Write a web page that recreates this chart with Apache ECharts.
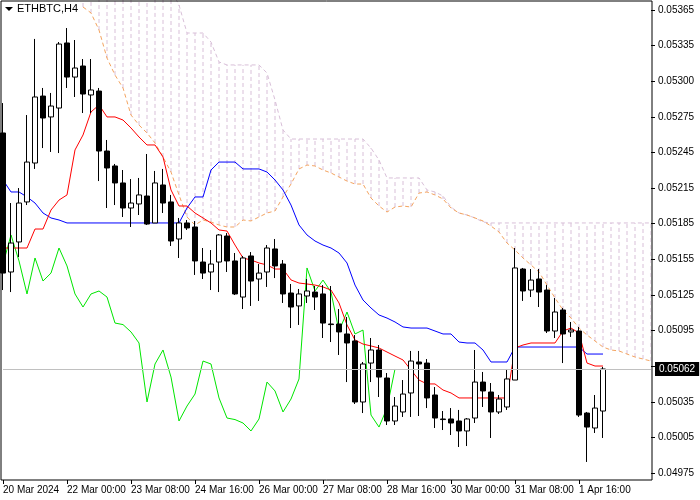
<!DOCTYPE html>
<html>
<head>
<meta charset="utf-8">
<script src="https://cdn.jsdelivr.net/npm/echarts@6/dist/echarts.min.js"></script>
<style>
  html, body { margin: 0; padding: 0; background: #fff; }
  #chart { width: 700px; height: 500px; }
</style>
</head>
<body>
<div id="chart"></div>
<script>
// ETHBTC H4 bars: [open, close, low, high]
var candles = [
  [0.052614,0.051434,0.051291,0.052866],
  [0.051443,0.051687,0.051274,0.052024],
  [0.051696,0.052024,0.051569,0.052150],
  [0.052033,0.052369,0.052007,0.052765],
  [0.052361,0.052917,0.052311,0.053406],
  [0.052925,0.052740,0.052487,0.052993],
  [0.052749,0.052841,0.052454,0.052951],
  [0.052824,0.053363,0.052445,0.053380],
  [0.053372,0.053085,0.052993,0.053498],
  [0.053085,0.053161,0.052917,0.053397],
  [0.053178,0.052942,0.052782,0.053237],
  [0.052934,0.052976,0.052782,0.053237],
  [0.052967,0.052462,0.052209,0.052993],
  [0.052462,0.052319,0.051982,0.052555],
  [0.052336,0.052193,0.052007,0.052353],
  [0.052193,0.051982,0.051906,0.052302],
  [0.051982,0.052024,0.051822,0.052226],
  [0.052016,0.052092,0.051923,0.052235],
  [0.052083,0.051847,0.051839,0.052437],
  [0.051856,0.052193,0.051856,0.052294],
  [0.052176,0.052024,0.051940,0.052311],
  [0.052033,0.051704,0.051662,0.052092],
  [0.051721,0.051856,0.051561,0.051898],
  [0.051856,0.051814,0.051797,0.051881],
  [0.051822,0.051536,0.051418,0.051872],
  [0.051527,0.051434,0.051384,0.051645],
  [0.051443,0.051510,0.051291,0.051628],
  [0.051527,0.051755,0.051274,0.051763],
  [0.051746,0.051536,0.051443,0.051771],
  [0.051536,0.051258,0.051249,0.051603],
  [0.051232,0.051561,0.051131,0.051578],
  [0.051578,0.051367,0.051157,0.051611],
  [0.051384,0.051434,0.051199,0.051510],
  [0.051443,0.051645,0.051317,0.051670],
  [0.051637,0.051494,0.051392,0.051721],
  [0.051510,0.051258,0.051182,0.051544],
  [0.051266,0.051148,0.050971,0.051342],
  [0.051157,0.051258,0.050997,0.051300],
  [0.051241,0.051283,0.051182,0.051384],
  [0.051274,0.051232,0.051123,0.051325],
  [0.051258,0.051013,0.050887,0.051333],
  [0.051005,0.051000,0.050853,0.051325],
  [0.051005,0.050938,0.050744,0.051131],
  [0.050921,0.050845,0.050516,0.051064],
  [0.050862,0.050348,0.050331,0.050912],
  [0.050348,0.050668,0.050255,0.050685],
  [0.050676,0.050786,0.050516,0.050887],
  [0.050786,0.050558,0.050390,0.050828],
  [0.050550,0.050188,0.050154,0.050592],
  [0.050188,0.050314,0.050154,0.050390],
  [0.050264,0.050415,0.050222,0.050533],
  [0.050424,0.050693,0.050222,0.050778],
  [0.050685,0.050668,0.050230,0.050778],
  [0.050676,0.050382,0.050297,0.050710],
  [0.050407,0.050213,0.050129,0.050474],
  [0.050205,0.050200,0.050112,0.050272],
  [0.050205,0.050171,0.050070,0.050297],
  [0.050188,0.050104,0.049969,0.050281],
  [0.050104,0.050205,0.049977,0.050213],
  [0.050213,0.050516,0.050171,0.050786],
  [0.050516,0.050441,0.050306,0.050601],
  [0.050432,0.050264,0.050045,0.050508],
  [0.050264,0.050373,0.050247,0.050407],
  [0.050306,0.050542,0.050281,0.050626],
  [0.050533,0.051477,0.050533,0.051645],
  [0.051468,0.051283,0.051199,0.051477],
  [0.051291,0.051375,0.051232,0.051468],
  [0.051384,0.051274,0.051148,0.051468],
  [0.051291,0.050946,0.050929,0.051333],
  [0.050946,0.051106,0.050887,0.051224],
  [0.051123,0.050921,0.050676,0.051140],
  [0.050938,0.050954,0.050896,0.051022],
  [0.050946,0.050238,0.050222,0.050980],
  [0.050255,0.050137,0.049843,0.050264],
  [0.050129,0.050297,0.050087,0.050407],
  [0.050272,0.050626,0.050045,0.050643]
];

// Tenkan-sen (red)
var tenkan = [
  0.051645,0.051645,0.051645,0.051645,0.051805,0.051805,0.051965,0.052049,0.052092,0.052471,
  0.052597,0.052791,0.052850,0.052749,0.052749,0.052723,0.052656,0.052580,0.052513,0.052513,
  0.052412,0.052134,0.051999,0.051999,0.051940,0.051898,0.051856,0.051797,0.051788,0.051670,
  0.051561,0.051544,0.051519,0.051502,0.051468,0.051468,0.051376,0.051350,0.051342,0.051333,
  0.051317,0.051291,0.051182,0.050997,0.050870,0.050836,0.050820,0.050803,0.050769,0.050735,
  0.050702,0.050617,0.050533,0.050500,0.050500,0.050449,0.050424,0.050382,0.050382,0.050382,
  0.050382,0.050382,0.050382,0.050382,0.050803,0.050828,0.050845,0.050845,0.050845,0.050845,
  0.050946,0.050971,0.050929,0.050676,0.050651,0.050651
];

// Kijun-sen (blue)
var kijun = [
  0.052218,0.052117,0.052117,0.052075,0.052024,0.051940,0.051898,0.051881,0.051856,0.051856,
  0.051856,0.051856,0.051856,0.051856,0.051856,0.051856,0.051856,0.051856,0.051856,0.051856,
  0.051856,0.051856,0.051856,0.051982,0.052075,0.052075,0.052302,0.052369,0.052369,0.052369,
  0.052311,0.052311,0.052311,0.052285,0.052218,0.052134,0.052007,0.051839,0.051755,0.051704,
  0.051670,0.051645,0.051603,0.051519,0.051333,0.051207,0.051140,0.051081,0.051055,0.051022,
  0.050980,0.050971,0.050971,0.050971,0.050946,0.050921,0.050921,0.050853,0.050845,0.050845,
  0.050786,0.050685,0.050685,0.050685,0.050811,0.050811,0.050811,0.050811,0.050811,0.050811,
  0.050811,0.050811,0.050811,0.050752,0.050752,0.050752
];

// Senkou span A / B, starting at bar 10, running 6 bars past the last candle
var spanStart = 10;
var senkouA = [
  0.053675,0.053625,0.053481,0.053245,0.053102,0.052993,0.052765,0.052681,0.052614,0.052530,
  0.052412,0.052285,0.052092,0.051906,0.051839,0.051881,0.051864,0.051839,0.051822,0.051822,
  0.051881,0.051873,0.051906,0.051940,0.051957,0.052075,0.052184,0.052311,0.052344,0.052336,
  0.052302,0.052277,0.052243,0.052209,0.052184,0.052184,0.052066,0.051999,0.051948,0.051990,
  0.051999,0.051990,0.052108,0.052117,0.052092,0.052058,0.051982,0.051940,0.051923,0.051898,
  0.051873,0.051830,0.051780,0.051687,0.051628,0.051561,0.051502,0.051443,0.051333,0.051224,
  0.051123,0.051055,0.050971,0.050912,0.050862,0.050811,0.050786,0.050778,0.050752,0.050727,
  0.050710,0.050693
];
var senkouB = [
  0.05382,0.05382,0.05382,0.05382,0.05382,0.05382,0.05382,0.05382,0.05382,0.05382,
  0.05382,0.05382,0.053692,0.053456,0.053456,0.053456,0.053380,0.053212,0.053187,0.053187,
  0.053187,0.053187,0.053187,0.053119,0.052892,0.052639,0.052563,0.052563,0.052563,0.052563,
  0.052563,0.052563,0.052563,0.052563,0.052563,0.052563,0.052487,0.052386,0.052235,0.052235,
  0.052235,0.052235,0.052235,0.052134,0.052117,0.052083,0.051990,0.051940,0.051923,0.051898,
  0.051864,0.051856,0.051856,0.051856,0.051856,0.051856,0.051856,0.051856,0.051856,0.051856,
  0.051856,0.051856,0.051856,0.051856,0.051856,0.051856,0.051856,0.051856,0.051856,0.051856,
  0.051856,0.051856
];

var chikouShift = 26;

var timeLabels = ['20 Mar 2024','22 Mar 00:00','23 Mar 08:00','24 Mar 16:00','26 Mar 00:00',
                  '27 Mar 08:00','28 Mar 16:00','30 Mar 00:00','31 Mar 08:00','1 Apr 16:00'];
var priceTicks = [0.04975,0.05005,0.05035,0.05065,0.05095,0.05125,0.05155,0.05185,
                  0.05215,0.05245,0.05275,0.05305,0.05335,0.05365];
var priceLabels = ['0.04975','0.05005','0.05035','','0.05095','0.05125','0.05155','0.05185',
                   '0.05215','0.05245','0.05275','0.05300','0.05335','0.05365'];
var lastPriceLabel = '0.05062';

var nSlots = spanStart + senkouA.length;
var categories = [];
for (var i = 0; i < nSlots; i++) categories.push(i);

var spanA = [], spanB = [], cloud = [];
for (var i = 0; i < nSlots; i++) {
    var k = i - spanStart;
    spanA.push(k >= 0 ? senkouA[k] : null);
    spanB.push(k >= 0 ? senkouB[k] : null);
    if (k >= 0) cloud.push([i, senkouA[k], senkouB[k]]);
}
var closes = candles.map(function (c) { return c[1]; });
var chikou = closes.slice(chikouShift);
var lastClose = closes[closes.length - 1];

var font = 'Liberation Sans';
var chart = echarts.init(document.getElementById('chart'));
chart.setOption({
    animation: false,
    backgroundColor: '#ffffff',
    grid: { left: 3, right: 49, top: 0, height: 480 },
    xAxis: {
        type: 'category',
        data: categories,
        boundaryGap: false,
        axisLine: { show: false },
        axisTick: { show: true, length: 4, interval: function (i) { return i % 8 === 0 && i <= 72; },
                    lineStyle: { color: '#000' } },
        axisLabel: {
            interval: function (i) { return i % 8 === 0 && i <= 72; },
            formatter: function (v, i) { return timeLabels[i / 8] || ''; },
            align: 'left', color: '#000', fontFamily: font, fontSize: 10, margin: 5
        },
        splitLine: { show: false }
    },
    yAxis: {
        type: 'value',
        position: 'right',
        min: 0.049691,
        max: 0.053734,
        axisLine: { show: false },
        axisTick: { show: true, length: 4, customValues: priceTicks, lineStyle: { color: '#000' } },
        axisLabel: {
            customValues: priceTicks,
            formatter: function (v) {
                for (var j = 0; j < priceTicks.length; j++) {
                    if (Math.abs(priceTicks[j] - v) < 1e-7) return priceLabels[j];
                }
                return '';
            },
            color: '#000', fontFamily: font, fontSize: 10, margin: 7
        },
        splitLine: { show: false }
    },
    series: [
        {
            type: 'custom',
            clip: true,
            silent: true,
            data: cloud,
            renderItem: function (params, api) {
                var p1 = api.coord([api.value(0), api.value(1)]);
                var p2 = api.coord([api.value(0), api.value(2)]);
                return {
                    type: 'line',
                    shape: { x1: p1[0], y1: p1[1], x2: p2[0], y2: p2[1] },
                    style: { stroke: '#d8bfd8', lineWidth: 1, lineDash: [4, 3] }
                };
            },
            z: 1
        },
        {
            type: 'line', data: spanB, symbol: 'none', clip: true, z: 2,
            lineStyle: { color: '#d8bfd8', width: 1, type: [4, 3] }
        },
        {
            type: 'line', data: spanA, symbol: 'none', clip: true, z: 2,
            lineStyle: { color: '#f4a460', width: 1, type: [4, 3] }
        },
        {
            type: 'line', data: chikou, symbol: 'none', z: 3,
            lineStyle: { color: '#00e600', width: 1 },
            // current price line
            markLine: {
                silent: true,
                symbol: 'none',
                precision: 6,
                data: [{ yAxis: lastClose }],
                lineStyle: { color: '#c0c0c0', type: 'solid', width: 1 },
                label: {
                    position: 'end', formatter: lastPriceLabel, distance: 4,
                    backgroundColor: '#000', color: '#fff', fontFamily: font, fontSize: 10,
                    padding: [2, 4]
                }
            }
        },
        {
            type: 'line', data: kijun, symbol: 'none', z: 3,
            lineStyle: { color: '#0000ff', width: 1 }
        },
        {
            type: 'line', data: tenkan, symbol: 'none', z: 3,
            lineStyle: { color: '#ff0000', width: 1 }
        },
        {
            type: 'candlestick',
            data: candles,
            barWidth: 5,
            z: 4,
            itemStyle: {
                color: '#ffffff', color0: '#000000',
                borderColor: '#000000', borderColor0: '#000000', borderWidth: 1
            }
        }
    ],
    graphic: [
        { type: 'rect', shape: { x: 1, y: 1, width: 651, height: 479 }, silent: true,
          style: { fill: 'none', stroke: '#000', lineWidth: 1 }, z: 10 },
        { type: 'polygon', shape: { points: [[5, 7], [13, 7], [9, 11]] },
          style: { fill: '#000' }, z: 10 },
        { type: 'text', left: 17, top: 3,
          style: { text: 'ETHBTC,H4', fill: '#000', font: '11px "Liberation Sans"' }, z: 10 }
    ]
});
</script>
</body>
</html>
